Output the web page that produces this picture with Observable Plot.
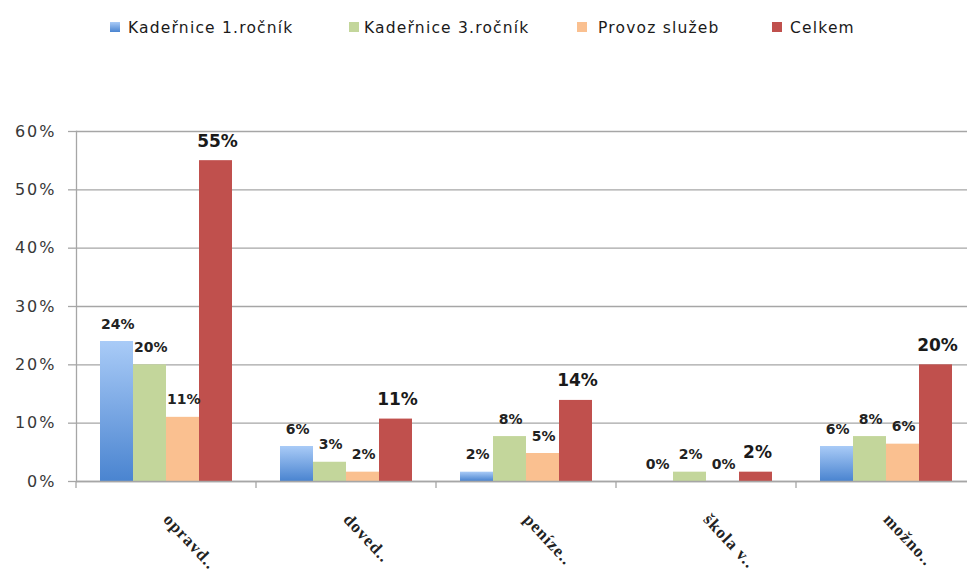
<!DOCTYPE html>
<html>
<head>
<meta charset="utf-8">
<script src="https://cdn.jsdelivr.net/npm/d3@7"></script>
<script src="https://cdn.jsdelivr.net/npm/@observablehq/plot@0.6"></script>
<style>
  html, body { margin: 0; padding: 0; background: #fff; overflow: hidden; width: 967px; height: 579px; }
  #legend { position: relative; height: 55px; font-family: "DejaVu Sans", sans-serif; font-size: 15.5px; color: #1a1a1a; letter-spacing: 1.2px; }
  #legend .sw { position: absolute; top: 22px; width: 10px; height: 10px; }
  #legend .lb { position: absolute; top: 19px; line-height: 18px; white-space: nowrap; }
  #chart { width: 990px; }
  #chart svg { display: block; max-width: none !important; }
</style>
</head>
<body>
<div id="legend"></div>
<div id="chart"></div>
<script>
const categories = ["opravd..", "doved..", "peníze..", "škola v..", "možno.."];
const series = ["Kadeřnice 1.ročník", "Kadeřnice 3.ročník", "Provoz služeb", "Celkem"];
const kadernice1 = [0.24, 0.06, 0.016, 0.0, 0.06];
const kadernice3 = [0.20, 0.033, 0.077, 0.016, 0.077];
const provozSluzeb = [0.11, 0.016, 0.048, 0.0, 0.064];
const celkem = [0.55, 0.107, 0.139, 0.016, 0.20];
const yTicks = [0, 0.1, 0.2, 0.3, 0.4, 0.5, 0.6];
const seriesColors = ["url(#blueGrad)", "#c3d69b", "#fac090", "#c0504d"];
const legendColors = ["#5f93d8", "#c3d69b", "#fac090", "#c0504d"];

const seriesValues = [kadernice1, kadernice3, provozSluzeb, celkem];
const data = categories.flatMap((c, i) =>
  series.map((s, j) => ({cat: c, series: s, value: seriesValues[j][i]})));
const fmt = d3.format(".0%");

// legend
const legendPos = [[110, 128], [349, 364], [577, 598], [772, 790]];
const legend = document.getElementById("legend");
series.forEach((s, i) => {
  const sw = document.createElement("div");
  sw.className = "sw";
  sw.style.left = legendPos[i][0] + "px";
  sw.style.background = i === 0 ? "linear-gradient(#a9cbf7, #4a84d0)" : legendColors[i];
  legend.appendChild(sw);
  const lb = document.createElement("div");
  lb.className = "lb";
  lb.style.left = legendPos[i][1] + "px";
  lb.textContent = s;
  legend.appendChild(lb);
});

const gridColor = "#a6a6a6";

function boundaryTicks(index, scales, values, dims) {
  const y0 = scales.y(0);
  const g = d3.create("svg:g");
  g.append("line")
    .attr("x1", dims.marginLeft).attr("x2", dims.marginLeft)
    .attr("y1", y0).attr("y2", y0 + 7)
    .attr("stroke", gridColor).attr("stroke-width", 1.3);
  return g.node();
}

const chart = Plot.plot({
  width: 990,
  height: 524,
  marginTop: 76,
  marginBottom: 98,
  marginLeft: 76,
  marginRight: 14,
  style: {fontFamily: "DejaVu Sans, sans-serif", background: "transparent", overflow: "visible", maxWidth: "none"},
  fx: {domain: categories, padding: 0, label: null},
  x: {domain: series, paddingInner: 0, paddingOuter: 0.7, axis: null},
  y: {domain: [0, 0.6], label: null},
  color: {domain: series, range: seriesColors},
  marks: [
    Plot.gridY(yTicks, {stroke: gridColor, strokeOpacity: 1, strokeWidth: 1.3}),
    Plot.axisY(yTicks, {tickFormat: fmt, tickSize: 8, tickPadding: 12, stroke: gridColor, strokeWidth: 1.3, fill: "#383838", fontSize: 16, label: null}),
    Plot.frame({anchor: "left", stroke: gridColor, strokeWidth: 1.3, facetAnchor: "left"}),
    Plot.barY(data, {fx: "cat", x: "series", y: "value", fill: "series"}),
    Plot.ruleY([0], {stroke: gridColor, strokeWidth: 1.3}),
    boundaryTicks,
    Plot.text(data.filter(d => d.series !== "Celkem"), {
      fx: "cat", x: "series", y: "value", text: d => fmt(d.value),
      dy: -13, dx: 0.75, lineAnchor: "bottom", fontSize: 14, fontWeight: "bold", fill: "#222",
      ariaLabel: "small-labels"
    }),
    Plot.text(data.filter(d => d.series === "Celkem"), {
      fx: "cat", x: "series", y: "value", text: d => fmt(d.value),
      dy: -14, dx: 1.5, lineAnchor: "bottom", fontSize: 17, fontWeight: "bold", fill: "#1a1a1a",
      ariaLabel: "total-labels"
    }),
    Plot.axisFx({anchor: "bottom", tickSize: 0, tickPadding: 35, tickRotate: 47, textAnchor: "start",
      fontSize: 17, fontWeight: "bold", fontFamily: "Liberation Serif, serif", fill: "#222", label: null})
  ]
});
chart.style.maxWidth = "none";

d3.select(chart).insert("defs", ":first-child").html(
  '<linearGradient id="blueGrad" x1="0" y1="0" x2="0" y2="1">' +
  '<stop offset="0" stop-color="#a9cbf7"/><stop offset="1" stop-color="#4a84d0"/></linearGradient>');
d3.select(chart).selectAll('[aria-label="y-axis tick label"] text').style("letter-spacing", "2px");
d3.select(chart).selectAll('[aria-label="small-labels"] text').style("letter-spacing", "1.5px");
d3.select(chart).selectAll('[aria-label="total-labels"] text').style("letter-spacing", "3px");
d3.select(chart).selectAll('[aria-label="fx-axis tick label"] text').style("letter-spacing", "1px");

document.getElementById("chart").appendChild(chart);
</script>
</body>
</html>
